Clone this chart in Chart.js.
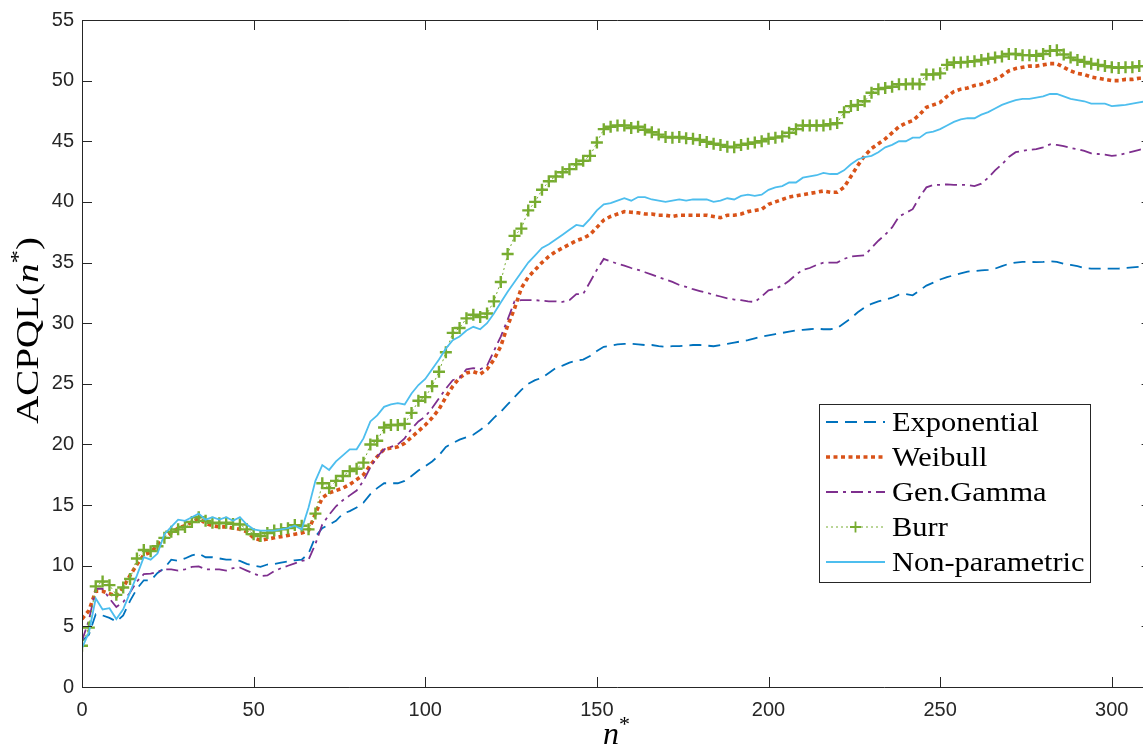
<!DOCTYPE html>
<html>
<head>
<meta charset="utf-8">
<title>ACPQL(n*)</title>
<script src="https://cdn.jsdelivr.net/npm/chart.js@4.4.1/dist/chart.umd.min.js"></script>
<style>
  html, body { margin: 0; padding: 0; background: #fff; overflow: hidden; }
  canvas { display: block; }
</style>
</head>
<body>
<canvas id="chart" width="1160" height="747"></canvas>
<script>
// n* values (x axis)
const nStar = [
  0, 2, 4, 6, 8, 10, 12, 14, 16, 18,
  20, 22, 24, 26, 28, 30, 32, 34, 36, 38,
  40, 42, 44, 46, 48, 50, 52, 54, 56, 58,
  60, 62, 64, 66, 68, 70, 72, 74, 76, 78,
  80, 82, 84, 86, 88, 90, 92, 94, 96, 98,
  100, 102, 104, 106, 108, 110, 112, 114, 116, 118,
  120, 122, 124, 126, 128, 130, 132, 134, 136, 138,
  140, 142, 144, 146, 148, 150, 152, 154, 156, 158,
  160, 162, 164, 166, 168, 170, 172, 174, 176, 178,
  180, 182, 184, 186, 188, 190, 192, 194, 196, 198,
  200, 202, 204, 206, 208, 210, 212, 214, 216, 218,
  220, 222, 224, 226, 228, 230, 232, 234, 236, 238,
  240, 242, 244, 246, 248, 250, 252, 254, 256, 258,
  260, 262, 264, 266, 268, 270, 272, 274, 276, 278,
  280, 282, 284, 286, 288, 290, 292, 294, 296, 298,
  300, 302, 304, 306, 308, 310
];

const exponential = [
  3.8, 4.3, 6.0, 5.9, 5.7, 5.4, 5.9, 7.1, 8.1, 8.8,
  8.8, 9.4, 9.8, 10.5, 10.4, 10.6, 10.85, 11.0, 10.7, 10.7,
  10.6, 10.5, 10.5, 10.4, 10.15, 10.0, 9.9, 10.1, 10.15, 10.25,
  10.35, 10.45, 10.5, 11.0, 12.4, 13.1, 13.4, 13.7, 14.3, 14.5,
  14.8, 15.2, 15.9, 16.4, 16.8, 16.8, 16.8, 17.0, 17.4, 17.85,
  18.2, 18.6, 19.1, 19.8, 20.1, 20.4, 20.6, 20.8, 21.2, 21.6,
  22.2, 22.7, 23.3, 23.9, 24.5, 25.0, 25.3, 25.5, 25.9, 26.3,
  26.5, 26.75, 26.9, 27.0, 27.3, 27.7, 28.05, 28.15, 28.25, 28.3,
  28.3, 28.25, 28.2, 28.2, 28.1, 28.05, 28.1, 28.1, 28.15, 28.2,
  28.2, 28.15, 28.1, 28.2, 28.3, 28.4, 28.5, 28.6, 28.75, 28.9,
  29.0, 29.1, 29.2, 29.3, 29.4, 29.45, 29.5, 29.55, 29.5, 29.5,
  29.6, 30.0, 30.4, 30.9, 31.3, 31.6, 31.8, 31.95, 32.1, 32.35,
  32.4, 32.3, 32.7, 33.1, 33.35, 33.6, 33.8, 33.95, 34.1, 34.25,
  34.3, 34.35, 34.4, 34.5, 34.7, 34.9, 35.0, 35.05, 35.05, 35.04,
  35.05, 35.1, 35.05, 34.9, 34.8, 34.7, 34.55, 34.5, 34.5, 34.5,
  34.5, 34.5, 34.55, 34.6, 34.65, 34.7
];

const weibull = [
  5.6, 6.3, 7.9, 7.9, 7.7, 7.5, 8.2, 9.2, 10.1, 10.9,
  11.1, 11.7, 12.3, 12.7, 13.1, 13.3, 13.6, 13.9, 13.5, 13.3,
  13.2, 13.2, 13.1, 13.0, 12.8, 12.3, 12.1, 12.2, 12.3, 12.4,
  12.5, 12.6, 12.7, 12.9, 14.3, 15.6, 16.0, 16.2, 16.4, 16.7,
  17.1, 17.5, 18.3, 19.0, 19.6, 19.7, 19.8, 20.1, 20.6, 21.1,
  21.6, 22.2, 22.9, 23.9, 24.8, 25.5, 25.9, 26.0, 25.8, 26.2,
  27.0, 28.1, 29.8, 31.2, 32.9, 33.8, 34.4, 35.0, 35.5, 35.9,
  36.2, 36.5, 36.8, 37.0, 37.3, 37.9, 38.5, 38.8, 39.0, 39.2,
  39.15, 39.1, 39.0, 39.0, 38.9, 38.9, 38.8, 38.9, 38.9, 38.9,
  38.9, 38.9, 38.8, 38.7, 38.9, 38.9, 39.0, 39.2, 39.3, 39.4,
  39.8, 40.0, 40.2, 40.4, 40.5, 40.6, 40.7, 40.8, 40.9, 40.8,
  40.8, 41.2, 42.1, 43.0, 43.8, 44.4, 44.8, 45.2, 45.7, 46.2,
  46.5, 46.7, 47.2, 47.8, 48.0, 48.2, 48.7, 49.1, 49.3, 49.4,
  49.6, 49.7, 49.9, 50.1, 50.4, 50.8, 51.0, 51.1, 51.2, 51.2,
  51.3, 51.4, 51.4, 51.1, 50.8, 50.6, 50.5, 50.3, 50.2, 50.1,
  50.0, 50.0, 50.1, 50.1, 50.2, 50.2
];

const genGamma = [
  3.8, 5.5, 8.1, 8.1, 7.3, 6.6, 7.0, 7.8, 8.7, 9.3,
  9.35, 9.5, 9.7, 9.7, 9.6, 9.7, 9.9, 9.95, 9.7, 9.7,
  9.7, 9.6, 9.8, 9.85, 9.6, 9.35, 9.15, 9.2, 9.55, 9.8,
  10.0, 10.2, 10.4, 10.5, 11.8, 13.4, 14.2, 14.9, 15.4, 15.8,
  16.2, 17.0, 18.1, 19.0, 19.6, 19.8, 20.0, 20.5, 21.3, 21.9,
  22.3, 23.0, 23.8, 24.6, 25.3, 25.5, 26.2, 26.3, 26.2, 26.5,
  27.7, 28.9, 30.3, 31.8, 31.9, 31.9, 31.9, 31.85, 31.8, 31.8,
  31.75, 31.9, 32.4, 32.4, 33.4, 34.4, 35.3, 35.1, 34.9, 34.75,
  34.55, 34.4, 34.2, 34.0, 33.8, 33.6, 33.4, 33.15, 33.0, 32.8,
  32.65, 32.5, 32.35, 32.2, 32.05, 31.95, 31.9, 31.8, 31.75, 32.2,
  32.7, 32.85, 33.1, 33.5, 34.0, 34.4, 34.55, 34.8, 35.0, 35.0,
  35.0, 35.3, 35.5, 35.55, 35.6, 36.2, 36.8, 37.3, 37.9, 38.8,
  39.1, 39.4, 40.4, 41.2, 41.4, 41.4, 41.45, 41.4, 41.4, 41.4,
  41.3, 41.5, 42.0, 42.6, 43.1, 43.7, 44.1, 44.2, 44.3, 44.35,
  44.5, 44.75, 44.7, 44.6, 44.45, 44.35, 44.2, 44.0, 43.95, 43.9,
  43.8, 43.85, 44.0, 44.15, 44.3, 44.4
];

const burr = [
  3.4, 4.9, 8.3, 8.7, 8.4, 7.6, 8.2, 8.9, 10.6, 11.3,
  11.2, 11.6, 12.3, 12.8, 13.0, 13.2, 13.6, 14.0, 13.7, 13.55,
  13.5, 13.55, 13.45, 13.4, 13.0, 12.6, 12.45, 12.7, 12.9, 13.0,
  13.1, 13.35, 13.3, 13.0, 14.3, 16.8, 16.4, 17.0, 17.4, 17.8,
  18.0, 18.5, 20.0, 20.3, 21.4, 21.6, 21.6, 21.7, 22.6, 23.6,
  23.9, 24.8, 26.0, 27.6, 29.2, 29.6, 30.4, 30.7, 30.5, 30.8,
  31.8, 33.4, 35.7, 37.2, 37.8, 39.3, 40.0, 41.0, 41.7, 42.1,
  42.45, 42.7, 43.1, 43.4, 43.8, 44.9, 46.0, 46.2, 46.3, 46.3,
  46.1, 46.2, 45.95, 45.75, 45.55, 45.35, 45.3, 45.35, 45.25, 45.2,
  45.1, 44.95, 44.8, 44.7, 44.55, 44.5, 44.7, 44.8, 44.9, 45.0,
  45.2, 45.3, 45.4, 45.7, 46.0, 46.3, 46.3, 46.3, 46.3, 46.4,
  46.5, 47.4, 47.9, 48.0, 48.3, 49.0, 49.3, 49.4, 49.5, 49.7,
  49.7, 49.75, 49.7, 50.5, 50.5, 50.6, 51.3, 51.5, 51.5, 51.55,
  51.6, 51.7, 51.8, 51.9, 52.0, 52.2, 52.2, 52.1, 52.1, 52.05,
  52.2, 52.45, 52.5, 52.15, 51.9, 51.7, 51.55, 51.4, 51.3, 51.2,
  51.1, 51.05, 51.1, 51.1, 51.2, 51.2
];

const nonParametric = [
  3.2, 4.5, 7.3, 6.4, 6.5, 5.6, 6.4, 7.8, 9.2, 10.7,
  10.5, 11.0, 12.6, 13.2, 13.8, 13.7, 14.0, 14.3, 13.8, 14.0,
  13.8, 14.0, 13.7, 14.0, 13.4, 13.0, 12.9, 12.9, 12.9, 13.0,
  13.1, 13.3, 13.0, 14.8, 17.0, 18.3, 17.9, 18.6, 19.1, 19.6,
  19.6, 20.5, 21.9, 22.4, 23.1, 23.3, 23.4, 23.3, 24.2, 24.9,
  25.4, 26.2, 27.0, 27.9, 28.6, 28.9, 29.4, 29.7, 29.5, 30.0,
  30.8, 31.7, 32.6, 33.4, 34.2, 35.0, 35.6, 36.2, 36.5, 36.9,
  37.3, 37.7, 38.1, 38.0, 38.6, 39.3, 39.8, 39.9, 40.1, 40.3,
  40.1, 40.4, 40.4, 40.2, 40.1, 40.0, 40.1, 40.2, 40.1, 40.2,
  40.2, 40.2, 40.0, 40.1, 40.3, 40.2, 40.5, 40.6, 40.5, 40.6,
  41.0, 41.2, 41.3, 41.6, 41.6, 42.0, 42.1, 42.2, 42.4, 42.3,
  42.3, 42.6, 43.1, 43.5, 43.7, 43.8, 44.1, 44.5, 44.7, 45.0,
  45.0, 45.3, 45.3, 45.7, 45.8, 46.0, 46.3, 46.6, 46.8, 46.9,
  46.9, 47.2, 47.4, 47.7, 48.0, 48.2, 48.4, 48.5, 48.5, 48.6,
  48.7, 48.9, 48.9, 48.7, 48.5, 48.4, 48.3, 48.1, 48.1, 48.1,
  47.9, 47.95, 48.0, 48.1, 48.2, 48.3
];

const xTicks = [0, 50, 100, 150, 200, 250, 300];
const yTicks = [0, 5, 10, 15, 20, 25, 30, 35, 40, 45, 50, 55];

const AXIS = '#262626';
const SERIF = '"Liberation Serif", "DejaVu Serif", serif';
const SANS = '"Liberation Sans", Arial, Helvetica, sans-serif';

const series = [
    { label: 'Exponential', values: exponential, color: '#0072BD', width: 1.8, dash: [12, 7] },
    { label: 'Weibull', values: weibull, color: '#D95319', width: 3.6, dash: [4, 3.5] },
    { label: 'Gen.Gamma', values: genGamma, color: '#7E2F8E', width: 1.8, dash: [12, 5, 3, 5] },
    { label: 'Burr', values: burr, color: '#77AC30', width: 1, dash: [2, 3], marker: true },
    { label: 'Non-parametric', values: nonParametric, color: '#4DBEEE', width: 1.8, dash: [] }
];

function toPoints(values) {
    return nStar.map((x, i) => ({ x: x, y: values[i] }));
}

// draws text runs (regular / italic / superscript) stretched to a target width
function fitRuns(ctx, runs, target) {
    let total = 0;
    for (const r of runs) {
        ctx.font = r.font;
        total += ctx.measureText(r.t).width;
    }
    const stretch = target ? target / total : 1;
    ctx.save();
    ctx.scale(stretch, 1);
    let cx = 0;
    for (const r of runs) {
        ctx.font = r.font;
        ctx.fillText(r.t, cx, r.dy || 0);
        cx += ctx.measureText(r.t).width;
    }
    ctx.restore();
    return stretch;
}

const frame = {
    id: 'frame',
    afterDraw(chart) {
        const ctx = chart.ctx;
        const { left, right, top, bottom } = chart.chartArea;
        const xs = chart.scales.x, ys = chart.scales.y;

        // box and inward ticks
        ctx.save();
        ctx.strokeStyle = AXIS;
        ctx.lineWidth = 1;
        ctx.beginPath();
        ctx.rect(left + 0.5, top + 0.5, right - left, bottom - top);
        xTicks.forEach(v => {
            const px = Math.round(xs.getPixelForValue(v)) + 0.5;
            ctx.moveTo(px, bottom); ctx.lineTo(px, bottom - 10);
            ctx.moveTo(px, top); ctx.lineTo(px, top + 10);
        });
        yTicks.forEach(v => {
            const py = Math.round(ys.getPixelForValue(v)) + 0.5;
            ctx.moveTo(left, py); ctx.lineTo(left + 10, py);
            ctx.moveTo(right, py); ctx.lineTo(right - 10, py);
        });
        ctx.stroke();
        ctx.restore();

        // axis titles
        ctx.save();
        ctx.fillStyle = '#000';
        ctx.textBaseline = 'alphabetic';
        ctx.translate(603, 744);
        fitRuns(ctx, [
            { t: 'n', font: 'italic 32px ' + SERIF },
            { t: '*', font: '22px ' + SERIF, dy: -13 }
        ], 27);
        ctx.restore();

        ctx.save();
        ctx.fillStyle = '#000';
        ctx.translate(38, 424);
        ctx.rotate(-Math.PI / 2);
        fitRuns(ctx, [
            { t: 'ACPQL(', font: '32px ' + SERIF },
            { t: 'n', font: 'italic 32px ' + SERIF },
            { t: '*', font: '22px ' + SERIF, dy: -13 },
            { t: ')', font: '32px ' + SERIF }
        ], 187);
        ctx.restore();

        // legend
        const box = { x: 819, y: 404, w: 271, h: 178 };
        ctx.save();
        ctx.fillStyle = '#fff';
        ctx.fillRect(box.x, box.y, box.w, box.h);
        ctx.strokeStyle = AXIS;
        ctx.lineWidth = 1;
        ctx.strokeRect(box.x + 0.5, box.y + 0.5, box.w, box.h);
        ctx.font = '27px ' + SERIF;
        const stretch = 147 / ctx.measureText('Exponential').width;
        series.forEach((s, i) => {
            const cy = 422 + i * 35;
            ctx.save();
            ctx.strokeStyle = s.color;
            ctx.lineWidth = s.width;
            ctx.setLineDash(s.dash);
            ctx.beginPath();
            ctx.moveTo(826, cy); ctx.lineTo(885, cy);
            ctx.stroke();
            if (s.marker) {
                ctx.setLineDash([]);
                ctx.lineWidth = 1.8;
                ctx.beginPath();
                ctx.moveTo(850, cy); ctx.lineTo(861, cy);
                ctx.moveTo(855.5, cy - 5.5); ctx.lineTo(855.5, cy + 5.5);
                ctx.stroke();
            }
            ctx.restore();
            ctx.save();
            ctx.fillStyle = '#000';
            ctx.translate(892, cy + 9);
            ctx.scale(stretch, 1);
            ctx.font = '27px ' + SERIF;
            ctx.fillText(s.label, 0, 0);
            ctx.restore();
        });
        ctx.restore();
    }
};

const datasets = series.map((s, i) => ({
    label: s.label,
    data: toPoints(s.values),
    borderColor: s.color,
    backgroundColor: s.color,
    borderWidth: s.width,
    borderDash: s.dash,
    tension: 0,
    fill: false,
    order: series.length - i,
    pointStyle: s.marker ? 'cross' : 'circle',
    pointRadius: s.marker ? 6 : 0,
    pointBorderWidth: s.marker ? 2.4 : 0,
    pointBorderColor: s.color,
    pointHoverRadius: 0
}));

new Chart(document.getElementById('chart').getContext('2d'), {
    type: 'line',
    data: { datasets: datasets },
    options: {
        responsive: false,
        animation: false,
        layout: { padding: { top: 17, right: 8, left: 0, bottom: 0 } },
        plugins: {
            legend: { display: false },
            tooltip: { enabled: false }
        },
        scales: {
            x: {
                type: 'linear',
                min: 0,
                max: 311.6,
                grid: { display: false, drawTicks: false },
                border: { display: false },
                afterBuildTicks: scale => { scale.ticks = xTicks.map(v => ({ value: v })); },
                afterFit: scale => { scale.height = 60; },
                ticks: {
                    color: AXIS,
                    font: { family: SANS, size: 20 },
                    padding: 11,
                    maxRotation: 0
                }
            },
            y: {
                min: 0,
                max: 55,
                grid: { display: false, drawTicks: false },
                border: { display: false },
                afterBuildTicks: scale => { scale.ticks = yTicks.map(v => ({ value: v })); },
                afterFit: scale => { scale.width = 82; },
                ticks: {
                    color: AXIS,
                    font: { family: SANS, size: 20 },
                    padding: 8
                }
            }
        }
    },
    plugins: [frame]
});
</script>
</body>
</html>
